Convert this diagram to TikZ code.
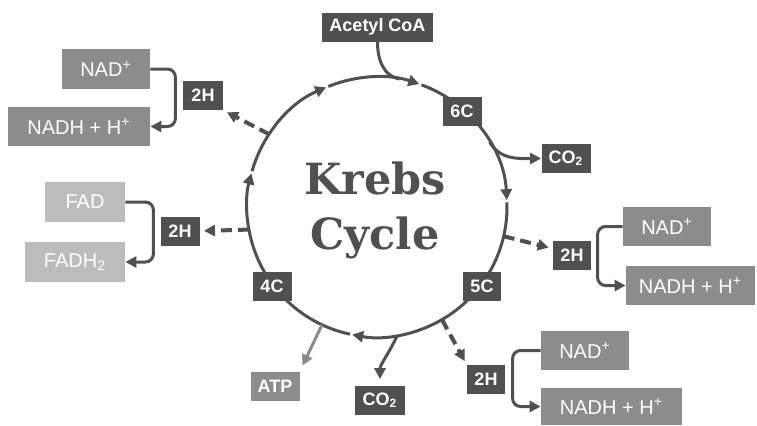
\documentclass[tikz,border=0pt]{standalone}
\usepackage{fontspec}
\setmainfont{Liberation Sans}
\newfontfamily\krebsfont{DejaVu Serif}
\usepackage{tikz}
\usetikzlibrary{arrows.meta}
\definecolor{krebsdark}{HTML}{505050}
\definecolor{krebsmid}{HTML}{8C8C8C}
\definecolor{krebslight}{HTML}{BCBCBC}
\tikzset{
  darkbox/.style={fill=krebsdark, text=white, inner sep=0pt, minimum height=14.5pt, font=\bfseries\fontsize{9}{10}\selectfont},
  nadbox/.style={fill=krebsmid, text=white, inner sep=0pt, minimum height=19.5pt, font=\fontsize{10}{12}\selectfont},
  fadbox/.style={nadbox, fill=krebslight},
  endtip/.style={-{Triangle[length=5.5pt,width=5.5pt]}},
  cyc/.style={draw=krebsdark, line width=1.5pt},
  brk/.style={cyc, rounded corners=4pt, endtip},
  hdash/.style={draw=krebsdark, line width=2pt, dash pattern=on 5.5pt off 3pt, endtip, shorten >=2pt}
}

\begin{document}
\begin{tikzpicture}[x=0.5pt, y=0.5pt]
\useasboundingbox (0,0) rectangle (757,425);
\coordinate (cen) at (377,218);
\foreach \s/\e in {164/113, 112/71, 70/3, 2/-101, -102/-195}
{\draw[cyc, endtip] ([shift={(\s:130)}]cen) arc[start angle=\s, end angle=\e, radius=130];}
\node[font=\krebsfont\bfseries\fontsize{21.5}{27.5}\selectfont, text=krebsdark, align=center, inner sep=0pt] (krebs) at (375,215) {Krebs\\Cycle};

\node[darkbox, minimum width=55.5pt] (acetyl) at (377.5,398) {Acetyl CoA};
\node[darkbox, minimum width=19.5pt] (six) at (462,313.5) {6C};
\node[darkbox, minimum width=19pt] (five) at (482,139) {5C};
\node[darkbox, minimum width=19.5pt] (four) at (272,139) {4C};
\node[darkbox, minimum width=24.5pt] (co2r) at (566,266.5) {CO\textsubscript{2}};
\node[darkbox, minimum width=25pt] (co2b) at (380,25) {CO\textsubscript{2}};
\node[darkbox, fill=krebsmid, minimum width=24.5pt] (atp) at (275,39) {ATP};

\node[darkbox, minimum width=20pt] (hTL) at (203,329.5) {2H};
\node[darkbox, minimum width=19.5pt] (hL) at (180,194) {2H};
\node[darkbox, minimum width=19pt] (hR) at (572,169.5) {2H};
\node[darkbox, minimum width=19pt] (hBR) at (486,45.5) {2H};

\node[nadbox, minimum width=44pt, minimum height=20pt] (nadTL) at (106,356) {NAD\textsuperscript{+}};
\node[nadbox, minimum width=71pt] (nadhTL) at (79,298.5) {NADH + H\textsuperscript{+}};
\node[fadbox, minimum width=40pt, minimum height=20pt] (fad) at (85,223) {FAD};
\node[fadbox, minimum width=50pt, minimum height=20pt] (fadh) at (75,163) {FADH\textsubscript{2}};
\node[nadbox, minimum width=44pt] (nadR) at (667,198.5) {NAD\textsuperscript{+}};
\node[nadbox, minimum width=64.5pt] (nadhR) at (690.5,139.5) {NADH + H\textsuperscript{+}};
\node[nadbox, minimum width=44pt] (nadBR) at (585,74.5) {NAD\textsuperscript{+}};
\node[nadbox, minimum width=70.5pt, minimum height=18.5pt] (nadhBR) at (611.5,18.5) {NADH + H\textsuperscript{+}};

\draw[cyc] (acetyl.south) to[out=-90, in=170] ([shift={(80:130)}]cen);
\draw[cyc, endtip] ([shift={(30:130)}]cen) to[out=-60, in=180] (co2r.west);
\draw[cyc, endtip, shorten >=3pt] ([shift={(-81:130)}]cen) to[out=-115, in=90] (co2b.north);
\draw[draw=krebsmid, line width=1.5pt, endtip, shorten >=3pt] ([shift={(-115:130)}]cen) -- (atp.north east);

\draw[hdash] ([shift={(146:130)}]cen) -- (hTL.south east);
\draw[hdash] ([shift={(190:130)}]cen) -- (hL.east);
\draw[hdash] ([shift={(-13:130)}]cen) -- ([yshift=3.5pt]hR.west);
\draw[hdash] ([shift={(-60:130)}]cen) -- (hBR.north west);

\draw[brk] (nadTL.east) -- ++(25,0) |- (nadhTL.east);
\draw[brk] (fad.east) -- ++(28,0) |- (fadh.east);
\draw[brk] (nadR.west) -- ++(-25,0) |- (nadhR.west);
\draw[brk] (nadBR.west) -- ++(-28,0) |- (nadhBR.west);
\end{tikzpicture}
\end{document}
